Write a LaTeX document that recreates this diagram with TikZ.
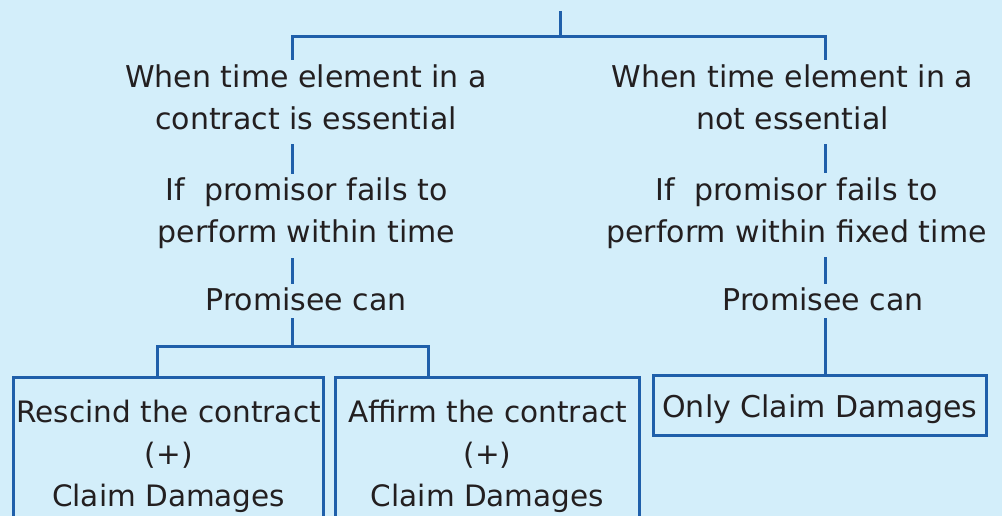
\documentclass[tikz,border=0pt]{standalone}
\usepackage{fontspec}
\setmainfont{DejaVu Sans}
\definecolor{bg}{HTML}{D3EEFA}
\definecolor{ln}{HTML}{1F5FAA}
\definecolor{tx}{HTML}{231F20}
\newcommand\hs{\rule{0pt}{27pt}}
\newcommand\ds{\rule[-15pt]{0pt}{15pt}}
\begin{document}
\begin{tikzpicture}[x=1pt,y=-1pt,
  lbl/.style={text=tx, font=\fontsize{30}{42}\selectfont, align=center, inner sep=0pt, anchor=north},
  conn/.style={draw=ln, line width=3pt},
  box/.style={draw=ln, line width=3pt, text=tx, font=\fontsize{29.5}{42}\selectfont, align=center, inner sep=0pt}]
\useasboundingbox (0,0) rectangle (1002,516);
\fill[bg] (0,0) rectangle (1002,516);
\clip (0,0) rectangle (1002,516);

\node[lbl] (L1) at (306,60) {\hs When time element in a\\contract is essential\ds};
\node[lbl] (I1) at (306.5,173.7) {\hs If~~promisor fails to\\perform within time\ds};
\node[lbl] (P1) at (306,283.7) {\hs Promisee can\ds};
\node[lbl] (R1) at (792.5,60) {\hs When time element in a\\not essential\ds};
\node[lbl] (I2) at (796.5,173) {\hs If~~promisor fails to\\perform within fixed time\ds};
\node[lbl] (P2) at (823,283.7) {\hs Promisee can\ds};

\node[box, minimum width=310pt, minimum height=162.4pt, anchor=north] (B1) at (168.7,375.5) {\hs Rescind the contract\\(+)\\Claim Damages\ds};
\node[box, minimum width=304pt, minimum height=162.4pt, anchor=north] (B2) at (487.5,375.5) {\hs Affirm the contract\\(+)\\Claim Damages\ds};
\node[box, font=\fontsize{30}{42}\selectfont, minimum width=333pt, minimum height=60pt] (B3) at (820,405.5) {\rule[-2pt]{0pt}{32pt}Only Claim Damages};

\coordinate (root) at (560,11);
\coordinate (hub) at (560,37);
\coordinate (xl) at (292,37);
\coordinate (xr) at (825,37);
\coordinate (sp) at (292,346);
\coordinate (s1) at (157.7,346);
\coordinate (s2) at (428.6,346);

\draw[conn] (root) -- (hub);
\draw[conn] (xl |- L1.north) -- (xl) -- (xr) -- (xr |- R1.north);
\draw[conn] (xl |- L1.south) -- (xl |- I1.north);
\draw[conn] (xl |- I1.south) -- (xl |- P1.north);
\draw[conn, shorten <=-8pt] (xl |- P1.south) -- (sp);
\draw[conn] (s1 |- B1.north) -- (s1) -- (s2) -- (s2 |- B2.north);
\draw[conn] (xr |- R1.south) -- (xr |- I2.north);
\draw[conn] (xr |- I2.south) -- (xr |- P2.north);
\draw[conn, shorten <=-8pt] (xr |- P2.south) -- (xr |- B3.north);
\end{tikzpicture}
\end{document}
